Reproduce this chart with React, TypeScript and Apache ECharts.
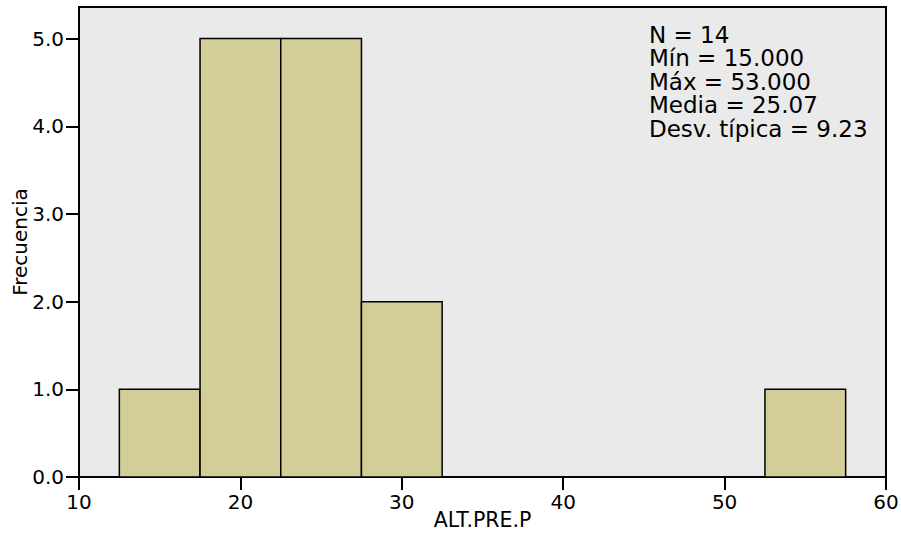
import React, { useEffect, useRef } from "react";
import * as echarts from "echarts";

const binStarts = [12.5, 17.5, 22.5, 27.5, 52.5];
const binEnds = [17.5, 22.5, 27.5, 32.5, 57.5];
const counts = [1, 5, 5, 2, 1];
const yTicks = [0, 1, 2, 3, 4, 5];
const statsLines = [
  "N = 14",
  "Mín = 15.000",
  "Máx = 53.000",
  "Media = 25.07",
  "Desv. típica = 9.23",
];

const FONT = "'DejaVu Sans', 'Liberation Sans', sans-serif";

export default function App() {
  const ref = useRef<HTMLDivElement>(null);
  useEffect(() => {
    if (!ref.current) return;
    const chart = echarts.init(ref.current, undefined, { renderer: "svg" });
    const data = binStarts.map((s, i) => [s, binEnds[i], counts[i]]);
    chart.setOption({
      animation: false,
      backgroundColor: "#ffffff",
      grid: {
        left: 79,
        top: 7,
        right: 15,
        bottom: 66,
        containLabel: false,
        outerBoundsMode: "none",
        show: true,
        backgroundColor: "#EAEAEA",
        borderColor: "#000",
        borderWidth: 2,
      },
      xAxis: {
        type: "value",
        min: 10,
        max: 60,
        interval: 10,
        name: "ALT.PRE.P",
        nameLocation: "middle",
        nameGap: 32,
        nameMoveOverlap: false,
        nameTextStyle: { fontFamily: FONT, fontSize: 20.5, color: "#000" },
        axisLine: { show: true, lineStyle: { color: "#000", width: 2 } },
        axisTick: { show: true, length: 13, lineStyle: { color: "#000", width: 2 } },
        axisLabel: { fontFamily: FONT, fontSize: 20, color: "#000", margin: 15 },
        splitLine: { show: false },
      },
      yAxis: {
        type: "value",
        min: 0,
        max: 5.36,
        interval: 1,
        name: "Frecuencia",
        nameLocation: "middle",
        nameGap: 49,
        nameMoveOverlap: false,
        nameTextStyle: { fontFamily: FONT, fontSize: 20, color: "#000" },
        axisLine: { show: true, lineStyle: { color: "#000", width: 2 } },
        axisTick: {
          show: true,
          length: 13,
          customValues: yTicks,
          lineStyle: { color: "#000", width: 2 },
        },
        axisLabel: {
          fontFamily: FONT,
          fontSize: 20,
          color: "#000",
          margin: 15,
          customValues: yTicks,
          formatter: (v: number) => v.toFixed(1),
        },
        splitLine: { show: false },
      },
      series: [
        {
          type: "custom",
          data,
          encode: { x: [0, 1], y: 2 },
          renderItem: (params: any, api: any) => {
            const p0 = api.coord([api.value(0), api.value(2)]);
            const p1 = api.coord([api.value(1), 0]);
            return {
              type: "rect",
              shape: { x: p0[0], y: p0[1], width: p1[0] - p0[0], height: p1[1] - p0[1] },
              style: { fill: "#D3CD98", stroke: "#000", lineWidth: 1.5 },
            };
          },
        },
      ],
      graphic: statsLines.map((line, i) => ({
        type: "text",
        left: 649,
        top: 23 + i * 23.6,
        z: 100,
        style: {
          text: line,
          font: `23px ${FONT}`,
          fill: "#000",
          lineHeight: 23,
        },
      })),
    });
    return () => chart.dispose();
  }, []);
  return (
    <div
      ref={ref}
      style={{ position: "fixed", left: 0, top: 0, width: 901, height: 543 }}
    />
  );
}
